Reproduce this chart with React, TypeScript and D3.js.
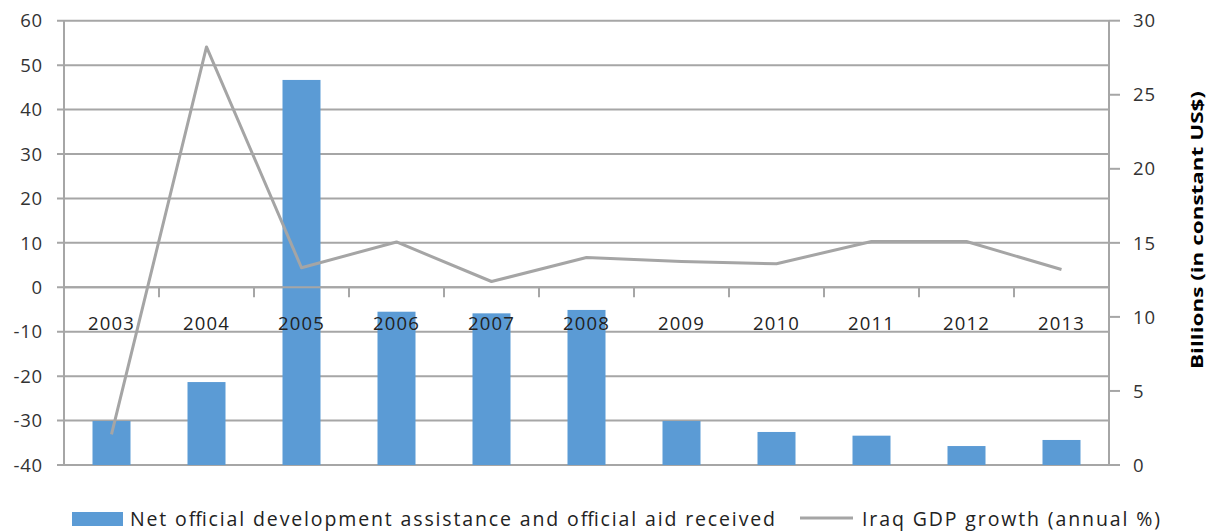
import React from "react";
import * as d3 from "d3";

const years = ["2003","2004","2005","2006","2007","2008","2009","2010","2011","2012","2013"];
const aidBillions = [2.97, 5.6, 26.0, 10.35, 10.24, 10.47, 2.97, 2.23, 1.98, 1.28, 1.69];
const gdpGrowth = [-33.1, 54.1, 4.4, 10.2, 1.3, 6.7, 5.8, 5.3, 10.3, 10.3, 4.0];
const leftTicks = [-40, -30, -20, -10, 0, 10, 20, 30, 40, 50, 60];
const rightTicks = [0, 5, 10, 15, 20, 25, 30];
const barLabel = "Net official development assistance and official aid received";
const lineLabel = "Iraq GDP growth (annual %)";
const rightTitle = "Billions  (in constant US$)";

const W = 1214, H = 531;
const X0 = 64, X1 = 1109, YT = 20.7, YB = 465;
const FONT = "'Open Sans', 'DejaVu Sans', sans-serif";
const GRID = "#A6A6A6";
const BAR = "#5B9BD5";
const LINE = "#A5A5A5";
const TXT = "#333333";

export default function App() {
  const x = d3.scaleBand<string>().domain(years).range([X0, X1]).padding(0);
  const yL = d3.scaleLinear().domain([-40, 60]).range([YB, YT]);
  const yR = d3.scaleLinear().domain([0, 30]).range([YB, YT]);
  const bw = x.bandwidth() * 0.4;
  const cx = (d: string) => (x(d) as number) + x.bandwidth() / 2;
  const line = d3.line<number>().x((_, i) => cx(years[i])).y((v) => yL(v));
  const y0 = yL(0);

  return (
    <svg width={W} height={H} style={{ position: "absolute", left: 0, top: 0, background: "#fff" }}
      fontFamily={FONT}>
      {leftTicks.map((t) => (
        <line key={"g" + t} x1={X0 - 7} x2={X1} y1={yL(t)} y2={yL(t)} stroke={GRID} strokeWidth={2} />
      ))}
      <line x1={X0} x2={X0} y1={YT} y2={YB} stroke={GRID} strokeWidth={2} />
      {leftTicks.map((t) => (
        <text key={"l" + t} x={43} y={yL(t)} dy="0.36em" textAnchor="end" fontSize={18.5}
          letterSpacing={0.8} fill={TXT}>{t}</text>
      ))}
      <line x1={X1} x2={X1} y1={YT} y2={YB} stroke={GRID} strokeWidth={2} />
      {rightTicks.map((t) => (
        <g key={"r" + t}>
          <line x1={X1} x2={X1 + 11} y1={yR(t)} y2={yR(t)} stroke={GRID} strokeWidth={2} />
          <text x={1133} y={yR(t)} dy="0.36em" fontSize={18.5} letterSpacing={0.8} fill={TXT}>{t}</text>
        </g>
      ))}
      <text transform={`translate(1203,230) rotate(-90)`} textAnchor="middle" fontSize={16.5}
        fontWeight="bold" fill="#000" textLength={278} lengthAdjust="spacingAndGlyphs">{rightTitle}</text>
      {aidBillions.map((v, i) => (
        <rect key={"b" + i} x={cx(years[i]) - bw / 2} y={yR(v)} width={bw} height={YB - yR(v)} fill={BAR} />
      ))}
      <line x1={X0} x2={X1} y1={y0} y2={y0} stroke={GRID} strokeWidth={2} />
      {years.map((d) => (
        <line key={"t" + d} x1={(x(d) as number) + x.bandwidth()} x2={(x(d) as number) + x.bandwidth()}
          y1={y0} y2={y0 + 10} stroke={GRID} strokeWidth={2} />
      ))}
      {years.map((d) => (
        <text key={"y" + d} x={cx(d)} y={330} textAnchor="middle" fontSize={18.5} letterSpacing={1.2}
          fill="#222">{d}</text>
      ))}
      <path d={line(gdpGrowth) as string} fill="none" stroke={LINE} strokeWidth={3} strokeLinejoin="round" />
      <rect x={72} y={512} width={51} height={14} fill={BAR} />
      <text x={130} y={526} fontSize={19.5} fill="#222" textLength={645} lengthAdjust="spacing">{barLabel}</text>
      <line x1={800} x2={853} y1={518} y2={518} stroke={LINE} strokeWidth={3} />
      <text x={862} y={526} fontSize={19.5} fill="#222" textLength={298} lengthAdjust="spacing">{lineLabel}</text>
    </svg>
  );
}
